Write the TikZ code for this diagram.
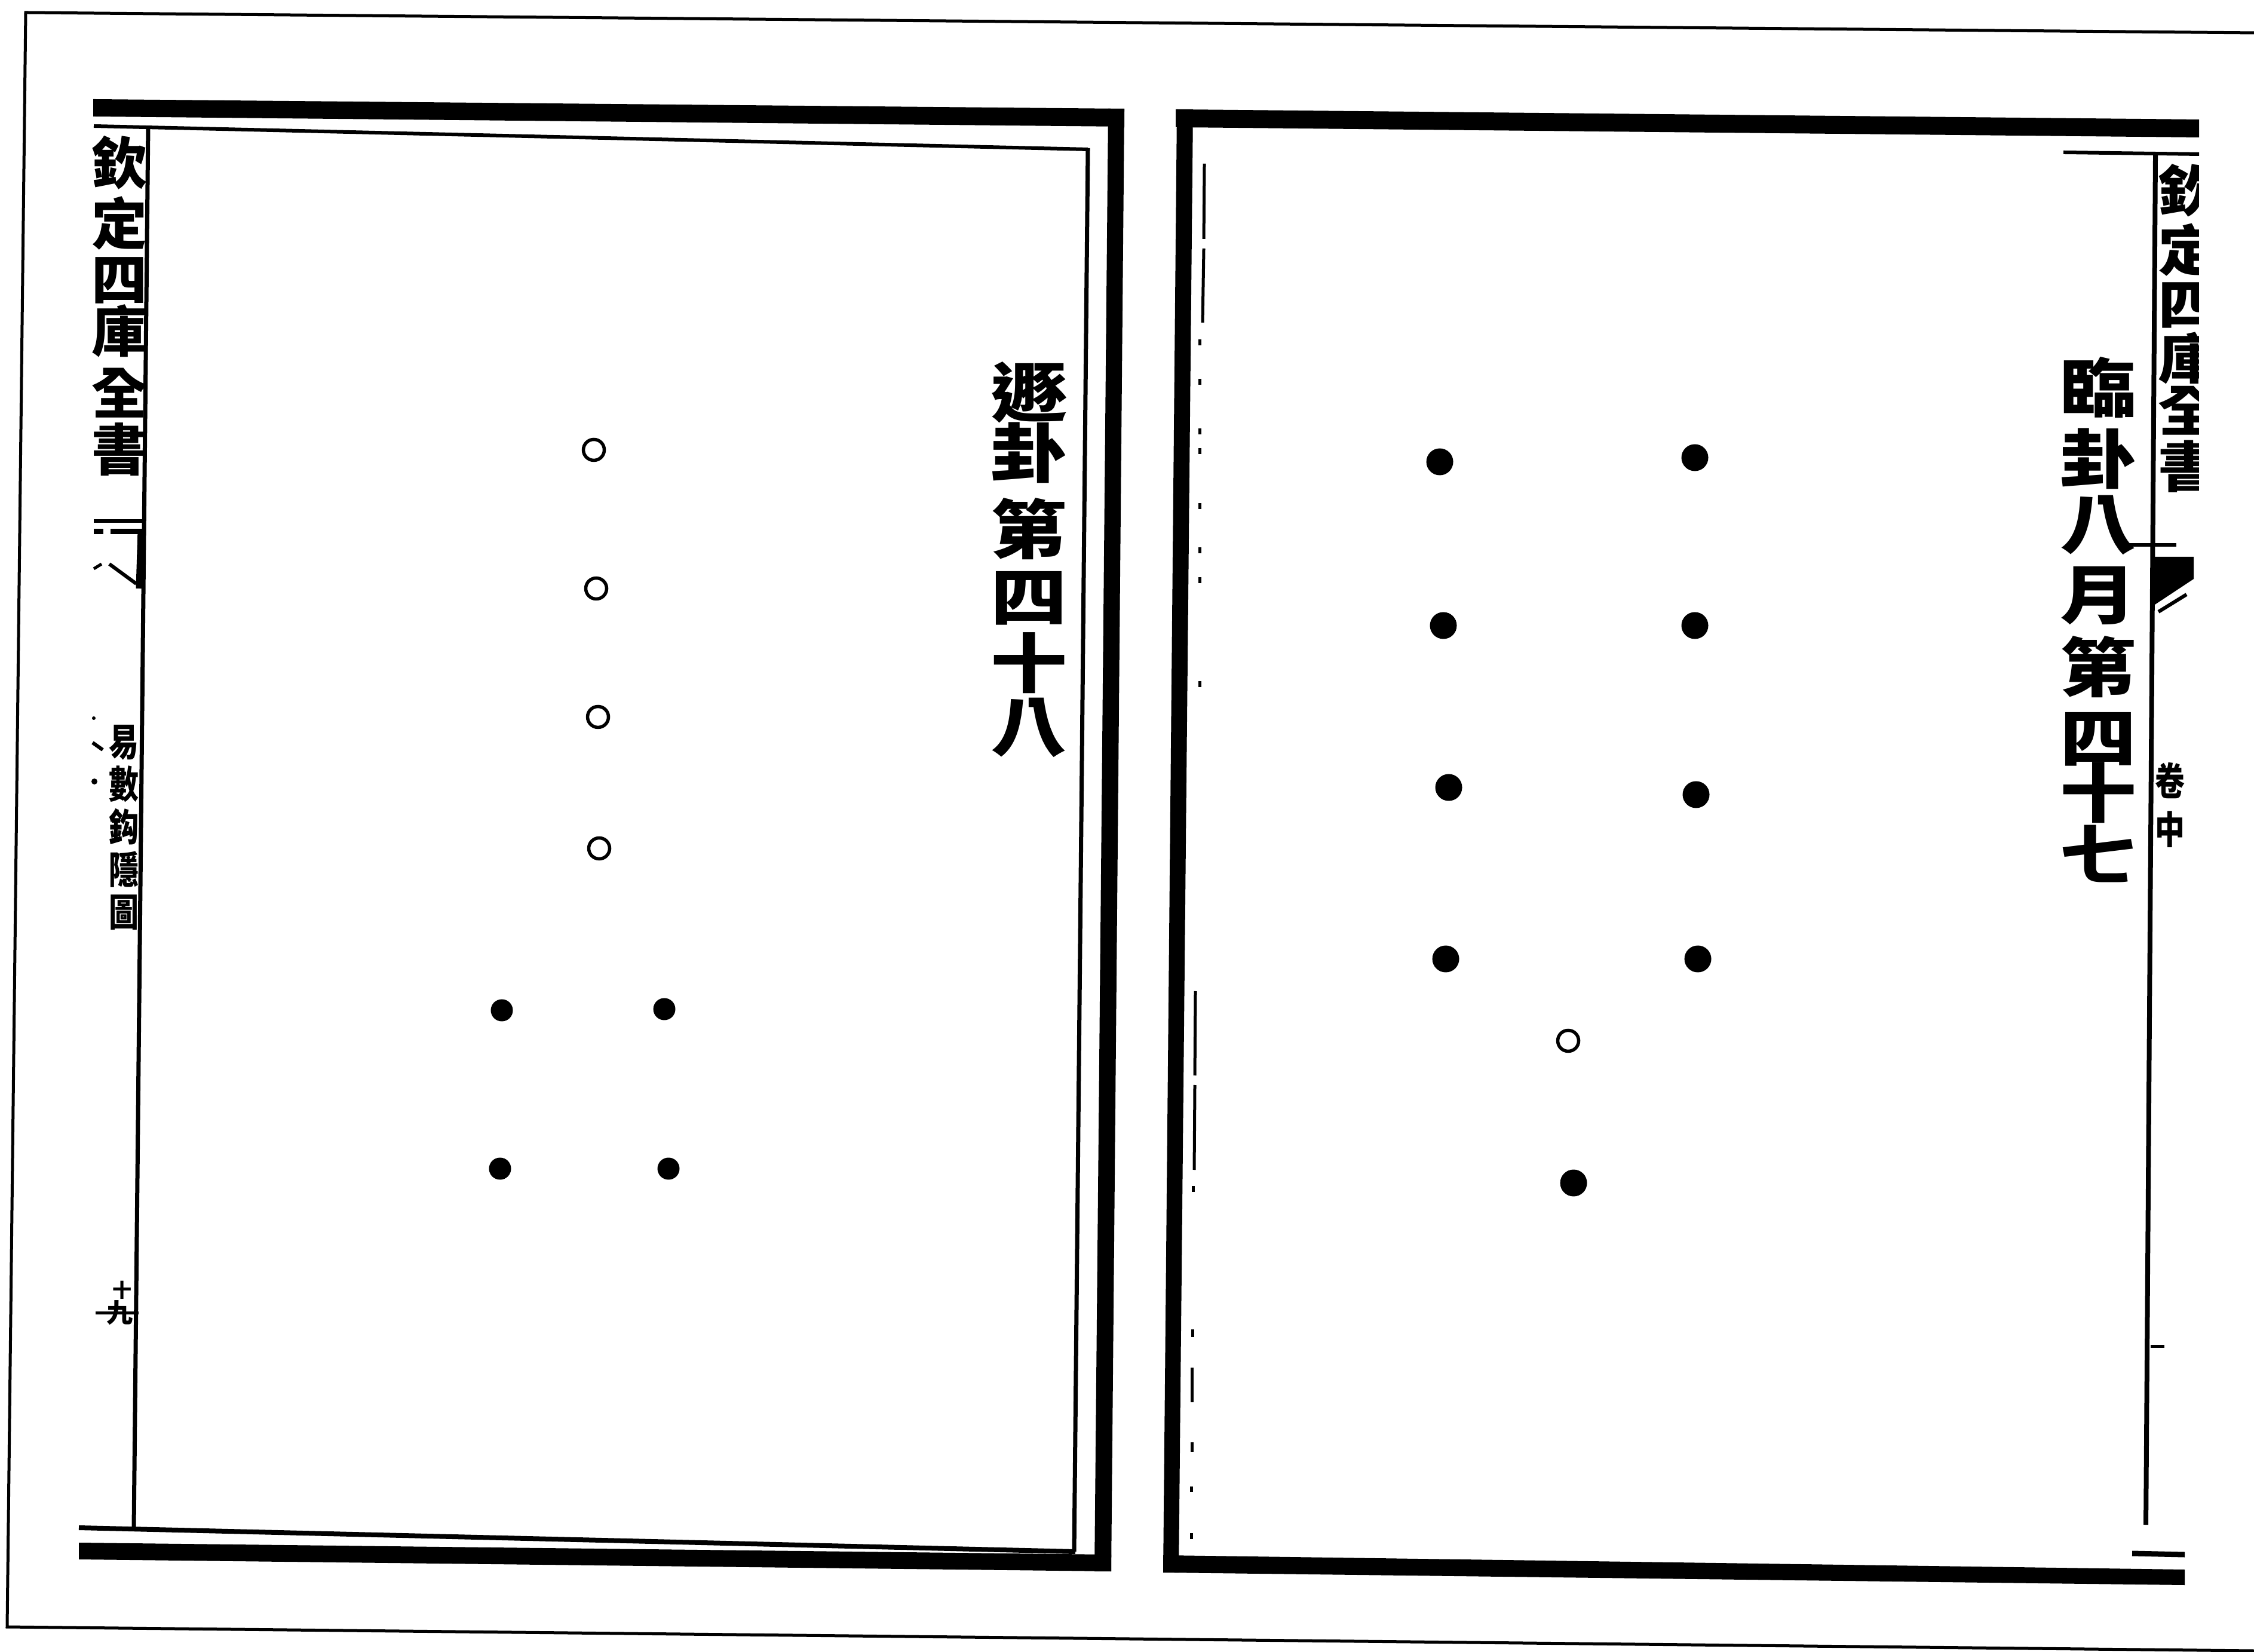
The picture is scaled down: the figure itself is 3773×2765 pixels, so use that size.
\documentclass[tikz,border=0pt]{standalone}
\usepackage{fontspec}
\newfontfamily\cjk{Noto Sans CJK TC}
\begin{document}
\begin{tikzpicture}[x=0.1pt,y=-0.1pt,
  hair/.style={line width=0.5pt},
  rule/.style={line width=0.7pt},
  bar/.style={fill=black},
  fdot/.style={circle, fill=black, inner sep=0pt, minimum size=3.7pt},
  bdot/.style={circle, fill=black, inner sep=0pt, minimum size=4.5pt},
  hdot/.style={circle, draw=black, line width=0.55pt, inner sep=0pt, minimum size=3.5pt},
  cbox/.style={inner sep=0pt, text height=0.78em, text depth=0.02em},
  title/.style={cbox, font=\cjk\bfseries\fontsize{12.8}{12.8}\selectfont, yscale=0.84},
  colhead/.style={cbox, font=\cjk\bfseries\fontsize{9.3}{9.3}\selectfont},
  rcolhead/.style={cbox, font=\cjk\bfseries\fontsize{10.4}{10.4}\selectfont, yscale=0.88},
  coltext/.style={cbox, font=\cjk\bfseries\fontsize{6.4}{6.4}\selectfont, xscale=0.78},
]
\useasboundingbox (0,0) rectangle (3773,2765);
\fill[white] (0,0) rectangle (3773,2765);

% outer thin frame of the scan
\draw[hair] (3773,55) -- (43,21) -- (12,2723) -- (3773,2763);

% ---------------- left page ----------------
\fill[bar] (156,166) -- (1882,182) -- (1882,212) -- (156,195) -- cycle;
\fill[bar] (1855,182) -- (1882,182) -- (1860,2630) -- (1832,2630) -- cycle;
\fill[bar] (132,2582) -- (1860,2602) -- (1860,2630) -- (132,2610) -- cycle;
\draw[line width=0.6pt] (157,211) -- (1821,250);
\draw[rule] (1821,248) -- (1798,2597);
\draw[line width=0.8pt] (132,2557) -- (1800,2597);
\draw[rule] (248,211) -- (224,2559);

% left margin column
\foreach \c/\yy [count=\i] in {欽/270,定/372,四/465,庫/552,全/655,書/750}
  \node[colhead] (lh\i) at (200,\yy) {\c};
% partial fish-tail
\draw[line width=0.6pt] (157,872) -- (242,872);
\draw[line width=0.9pt] (157,890) -- (173,890) (185,890) -- (240,890);
\draw[line width=1.1pt] (236,888) -- (233,985);
\draw[line width=0.5pt] (157,952) -- (170,944);
\draw[line width=0.6pt] (183,944) -- (228,977);
\foreach \c/\yy [count=\i] in {易/1228,數/1299,鈎/1371,隱/1442,圖/1513}
  \node[coltext] (lb\i) at (207,\yy) {\c};
% fragments of the facing column
\fill (157,1202) circle (3);
\draw[line width=0.6pt] (155,1243) -- (172,1255);
\fill (158,1308) circle (5);
% page number
\node[cbox, font=\cjk\bfseries\fontsize{3.2}{3.2}\selectfont] (pn1) at (204,2133) {十};
\node[cbox, font=\cjk\bfseries\fontsize{4.4}{4.4}\selectfont] (pn2) at (200,2175) {九};
\draw[line width=0.5pt] (160,2197) -- (232,2197);

% title
\foreach \c/\yy [count=\i] in {遯/666,卦/767,第/895,四/1008,十/1119,八/1225}
  \node[title] (lt\i) at (1722,\yy) {\c};

% hexagram of the left page
\node[hdot] (la1) at (994,753) {};
\node[hdot] (la2) at (998,985) {};
\node[hdot] (la3) at (1001,1200) {};
\node[hdot] (la4) at (1003,1420) {};
\node[fdot] (lb5l) at (840,1691) {};
\node[fdot] (lb5r) at (1112,1689) {};
\node[fdot] (lb6l) at (837,1956) {};
\node[fdot] (lb6r) at (1119,1956) {};

% ---------------- right page ----------------
\fill[bar] (1968,183) -- (3681,200) -- (3681,230) -- (1968,213) -- cycle;
\fill[bar] (1970,183) -- (1997,183) -- (1973,2632) -- (1947,2632) -- cycle;
\fill[bar] (1947,2603) -- (3657,2627) -- (3657,2653) -- (1947,2632) -- cycle;

% broken inner left rule
\draw[hair] (2016,274) -- (2015,400) (2015,416) -- (2013,540);
\foreach \yy in {573,639,722,755,847,921,971,1145}
  \draw[hair] (2008,\yy-5) -- (2008,\yy+5);
\draw[hair] (2001,1659) -- (2000,1800) (2000,1816) -- (1999,1958);
\draw[hair] (1997,1985) -- (1997,1995) (1996,2225) -- (1996,2238)
  (1995,2289) -- (1995,2347) (1995,2414) -- (1995,2430)
  (1994,2488) -- (1994,2497) (1994,2566) -- (1994,2576);

% right margin column
\draw[line width=0.6pt] (3454,255) -- (3681,258);
\draw[line width=0.8pt] (3608,258) -- (3592,2552);
\begin{scope}
  \clip (3612,262) rectangle (3680,900);
  \foreach \c/\yy [count=\i] in {欽/320,定/420,四/510,庫/601,全/688,書/782}
    \node[rcolhead] (rh\i) at (3664,\yy) {\c};
\end{scope}
% fish-tail
\draw[line width=0.6pt] (3560,912) -- (3643,912);
\fill[bar] (3607,932) -- (3672,932) -- (3672,969) -- (3607,1012) -- cycle;
\draw[line width=0.6pt] (3613,1024) -- (3660,995);
\foreach \c/\yy [count=\i] in {卷/1294,中/1375}
  \node[coltext] (rb\i) at (3632,\yy) {\c};
\draw[hair] (3600,2253) -- (3623,2253);
\draw[line width=0.9pt] (3569,2600) -- (3657,2602);

% title
\foreach \c/\yy [count=\i] in {臨/658,卦/777,八/886,月/1004,第/1126,四/1244,十/1336,七/1439}
  \node[title] (rt\i) at (3512,\yy) {\c};

% hexagram of the right page
\node[bdot] (ra1) at (2410,773) {};
\node[bdot] (rb1) at (2837,766) {};
\node[bdot] (ra2) at (2416,1047) {};
\node[bdot] (rb2) at (2837,1047) {};
\node[bdot] (ra3) at (2425,1318) {};
\node[bdot] (rb3) at (2839,1330) {};
\node[bdot] (ra4) at (2420,1605) {};
\node[bdot] (rb4) at (2842,1605) {};
\node[hdot] (rc5) at (2625,1742) {};
\node[bdot] (rc6) at (2634,1980) {};
\end{tikzpicture}
\end{document}
